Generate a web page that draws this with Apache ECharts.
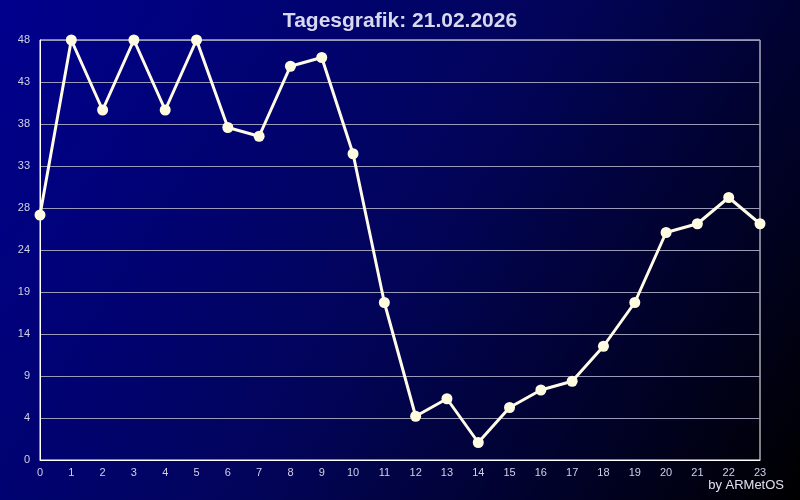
<!DOCTYPE html>
<html>
<head>
<meta charset="utf-8">
<script src="https://cdn.jsdelivr.net/npm/echarts@6/dist/echarts.min.js"></script>
<style>html,body{margin:0;padding:0;background:#000;}#c{width:800px;height:500px;}</style>
</head>
<body>
<div id="c"></div>
<script>
const hours = ['0','1','2','3','4','5','6','7','8','9','10','11','12','13','14','15','16','17','18','19','20','21','22','23'];
const values = [28,48,40,48,40,48,38,37,45,46,35,18,5,7,2,6,8,9,13,18,26,27,30,27];
const titleText = 'Tagesgrafik: 21.02.2026';
const creditText = 'by ARMetOS';
const yMin = 0, yMax = 48, yStep = 4.8;

const chart = echarts.init(document.getElementById('c'), null, {renderer:'canvas'});
chart.setOption({
  animation: false,
  backgroundColor: {
    type: 'linear', x: 0, y: 0, x2: 1, y2: 1,
    colorStops: [
      {offset: 0, color: '#00008e'},
      {offset: 0.5, color: '#02045a'},
      {offset: 1, color: '#000000'}
    ]
  },
  title: [{
    text: titleText, left: 'center', top: 6,
    textStyle: {color: '#d8d8f0', fontFamily: 'Liberation Sans, Arial', fontSize: 21, fontWeight: 'bold'}
  }, {
    text: creditText, right: 11, bottom: 3,
    textStyle: {color: '#e0e0f0', fontFamily: 'Liberation Sans, Arial', fontSize: 13, fontWeight: 'normal'}
  }],
  grid: {left: 40, right: 40, top: 40, bottom: 40, show: true, borderColor: '#ffffff', borderWidth: 1, backgroundColor: 'transparent'},
  xAxis: {
    type: 'category', data: hours, boundaryGap: false,
    axisLine: {show: true, lineStyle: {color: '#ffffff', width: 1}},
    axisTick: {show: false},
    axisLabel: {color: '#d0d0e8', fontFamily: 'Liberation Sans, Arial', fontSize: 11, margin: 7, interval: 0},
    splitLine: {show: false}
  },
  yAxis: {
    type: 'value', min: yMin, max: yMax, interval: yStep,
    axisLine: {show: true, lineStyle: {color: '#ffffff', width: 1}},
    axisTick: {show: false},
    axisLabel: {color: '#d0d0e8', fontFamily: 'Liberation Sans, Arial', fontSize: 11, margin: 10,
      formatter: v => String(Math.floor(v + 1e-6))},
    splitLine: {show: true, lineStyle: {color: '#9a9ab8', width: 1}}
  },
  series: [{
    type: 'line', data: values,
    symbol: 'circle', symbolSize: 11,
    lineStyle: {color: '#fffbe6', width: 3},
    itemStyle: {color: '#fffbe0', borderWidth: 0},
    z: 5
  }]
});
</script>
</body>
</html>
